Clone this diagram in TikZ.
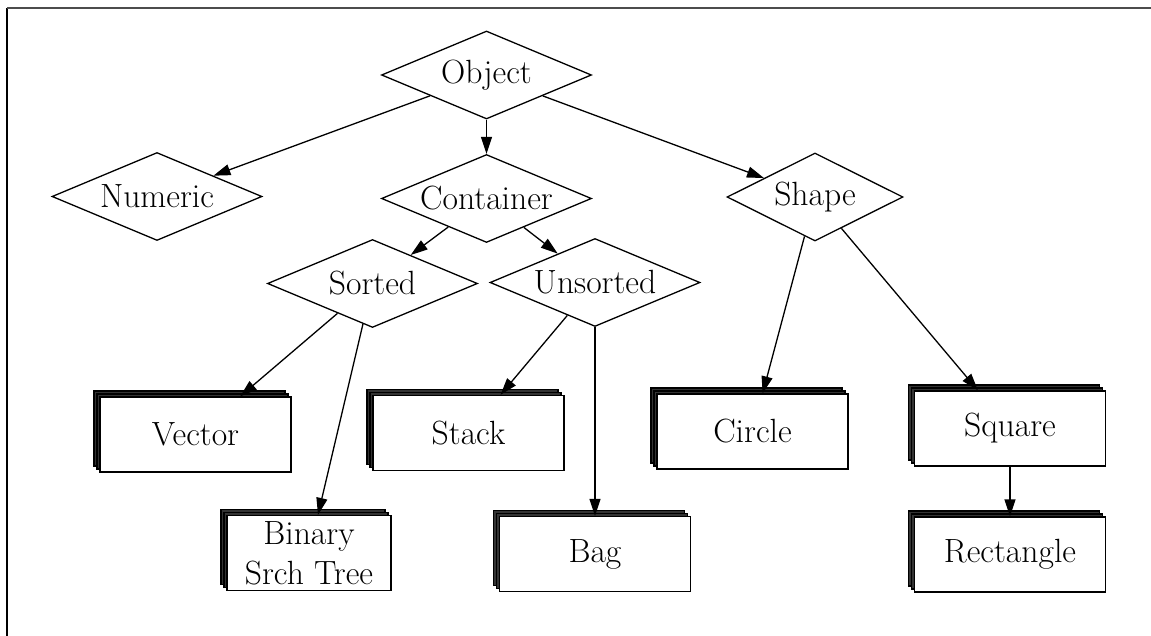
\documentclass[tikz,border=0pt]{standalone}
\usetikzlibrary{shapes.geometric,arrows.meta}
\tikzset{
  dia/.style={draw=black, line width=0.65pt, shape=diamond, aspect=2.4, inner sep=0pt,
    minimum width=105pt, minimum height=44pt, font=\fontsize{16.8}{20}\selectfont},
  boxbase/.style={draw=black, fill=white, line width=0.65pt, rectangle, inner sep=0pt,
    minimum height=37.5pt, align=center, font=\fontsize{16.8}{20}\selectfont},
  backbox/.style={boxbase, fill=black!80},
  conn/.style={line width=0.65pt, -{Triangle[length=8.5pt,width=5.5pt]}},
}
\newcommand{\stk}[4]{%
  \node[backbox, minimum width=#3, xshift=-3pt, yshift=3pt] at (#2) {};
  \node[backbox, minimum width=#3, xshift=-1.5pt, yshift=1.5pt] at (#2) {};
  \node[boxbase, minimum width=#3] (#1) at (#2) {#4};
}
\begin{document}
\begin{tikzpicture}[x=0.5pt,y=-0.5pt]
\useasboundingbox (0,0) rectangle (1151,636);
\coordinate (fa) at (7,636);
\coordinate (fb) at (7,8);
\coordinate (fc) at (1151,8);
\draw[line width=1pt, black] (fa) -- (fb);
\draw[line width=1.2pt, black!70] (fb) -- (fc);

\node[dia] (object) at (486.5,75) {Object};
\node[dia] (numeric) at (157,196.5) {Numeric};
\node[dia] (container) at (486.5,198.5) {Container};
\node[dia, minimum width=88pt] (shape) at (815,197) {Shape};
\node[dia] (sorted) at (372.5,283.5) {Sorted};
\node[dia] (unsorted) at (595,282.5) {Unsorted};

\stk{vector}{195.5,434.5}{95.5pt}{Vector}
\stk{stack}{468.5,433}{95.5pt}{Stack}
\stk{bst}{309,553}{82pt}{Binary\\Srch Tree}
\stk{bag}{595,554}{95.5pt}{Bag}
\stk{circle}{752.5,431.5}{95.5pt}{Circle}
\stk{square}{1010,428.5}{95.5pt}{Square}
\stk{rect}{1010,554.5}{95.5pt}{Rectangle}

\draw[conn] (object) -- (numeric);
\draw[conn] (object) -- (container);
\draw[conn] (object) -- (shape);
\draw[conn] (container) -- (sorted);
\draw[conn] (container) -- (unsorted);
\draw[conn] (sorted) -- (vector);
\draw[conn] (sorted) -- (bst);
\draw[conn] (unsorted) -- (stack);
\draw[conn] (unsorted) -- (bag);
\draw[conn] (shape) -- (circle);
\draw[conn] (shape) -- (square);
\draw[conn] (square) -- (rect);
\end{tikzpicture}
\end{document}
